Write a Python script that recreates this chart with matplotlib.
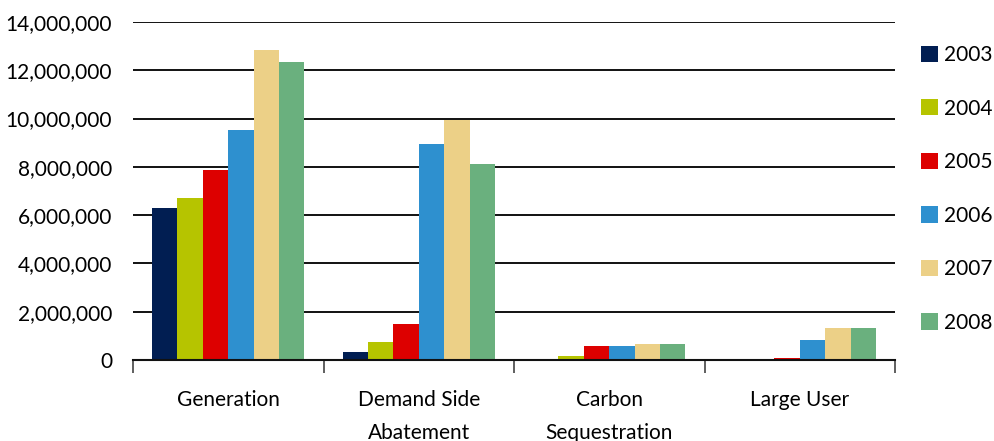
import matplotlib
matplotlib.use("Agg")
import matplotlib.pyplot as plt
from matplotlib.patches import Patch
import numpy as np

plt.rcParams['font.family'] = ['Lato', 'DejaVu Sans']

categories = ["Generation", "Demand Side\nAbatement", "Carbon\nSequestration", "Large User"]
years = ["2003", "2004", "2005", "2006", "2007", "2008"]
values = {
    "2003": [6290000, 330000, 0, 0],
    "2004": [6700000, 745000, 166000, 0],
    "2005": [7860000, 1490000, 580000, 83000],
    "2006": [9520000, 8940000, 580000, 830000],
    "2007": [12830000, 9930000, 660000, 1320000],
    "2008": [12330000, 8110000, 660000, 1320000],
}
colors = ["#011E52", "#B6C400", "#DD0000", "#2E90CF", "#ECD087", "#6AB07E"]
yticks = [0, 2000000, 4000000, 6000000, 8000000, 10000000, 12000000, 14000000]

FS = 15

fig = plt.figure(figsize=(9.94, 4.41), dpi=100)
ax = fig.add_axes([133/994, 81/441, 762/994, 338/441])

# grouped bars: six years side by side within each category
x = np.arange(len(categories))
n = len(years)
group = 0.8
w = group / n
for i, (yr, col) in enumerate(zip(years, colors)):
    offs = -group/2 + w*(i + 0.5)
    ax.bar(x + offs, values[yr], width=w, color=col, zorder=3, linewidth=0)

ax.set_xlim(-0.5, len(categories) - 0.5)
ax.set_ylim(0, 14000000)
ax.set_yticks(yticks)
ax.set_yticklabels([f"{v:,}" for v in yticks], fontsize=FS)
ax.tick_params(axis='y', length=0, pad=15)
for v in yticks[1:]:
    ax.axhline(v, color="#111111", linewidth=1.4, zorder=1)

# tick marks between categories, labels centred under each group
ax.set_xticks(np.arange(-0.5, len(categories), 1.0))
ax.set_xticklabels([])
ax.tick_params(axis='x', which='major', length=9, width=1.2, color="#444444", direction='out')
ax.set_xticks(x, minor=True)
ax.set_xticklabels(categories, minor=True, fontsize=FS, linespacing=1.82, va='top')
ax.tick_params(axis='x', which='minor', length=0, pad=21.5)

for s in ["top", "right", "left"]:
    ax.spines[s].set_visible(False)
ax.spines["bottom"].set_linewidth(1.5)
ax.spines["bottom"].set_color("#111111")
ax.spines["bottom"].set_zorder(4)

handles = [Patch(facecolor=c, edgecolor='none', label=y) for y, c in zip(years, colors)]
fig.legend(handles=handles, loc="upper left", bbox_to_anchor=(921/994, 1 - 45/441),
           frameon=False, fontsize=FS, handlelength=0.82, handleheight=0.82,
           handletextpad=0.3, labelspacing=1.61, borderpad=0, borderaxespad=0)

fig.savefig("out.png", dpi=100)
